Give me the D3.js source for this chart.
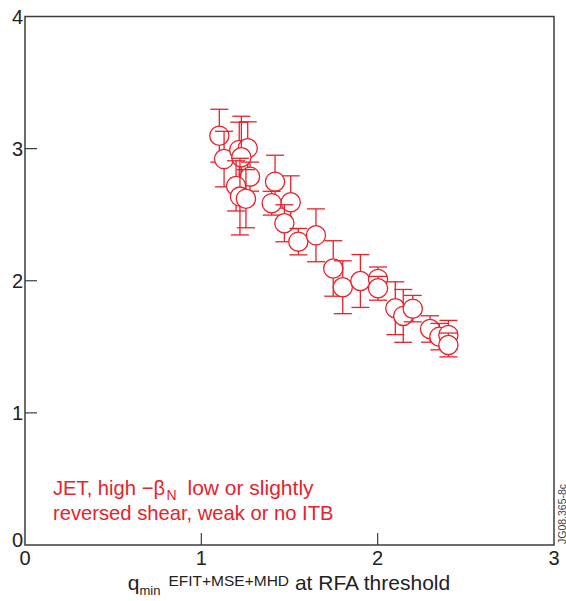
<!DOCTYPE html>
<html>
<head>
<meta charset="utf-8">
<script src="https://cdn.jsdelivr.net/npm/d3@7"></script>
<style>
  html, body { margin: 0; padding: 0; background: #fff; }
  svg { display: block; }
  text { font-family: "Liberation Sans", Arial, Helvetica, sans-serif; }
</style>
</head>
<body>
<script>
// ---- data ----
const qmin   = [1.102, 1.129, 1.215, 1.263, 1.227, 1.276, 1.197, 1.219, 1.253,
                1.418, 1.399, 1.507, 1.471, 1.550, 1.650,
                1.748, 1.802, 1.902, 2.002, 2.002, 2.100, 2.145, 2.199,
                2.297, 2.350, 2.401, 2.401];
const betaN  = [3.098, 2.921, 2.990, 3.003, 2.935, 2.788, 2.718, 2.637, 2.621,
                2.750, 2.587, 2.594, 2.435, 2.296, 2.344,
                2.093, 1.951, 1.998, 2.014, 1.943, 1.792, 1.734, 1.789,
                1.635, 1.577, 1.590, 1.514];
const betaErr = [0.20, 0.21, 0.21, 0.20, 0.31, 0.11, 0.19, 0.29, 0.22,
                 0.20, 0.09, 0.20, 0.14, 0.10, 0.20,
                 0.21, 0.20, 0.20, 0.09, 0.09, 0.20, 0.20, 0.10,
                 0.10, 0.10, 0.11, 0.09];
const xTickLabels = [0, 1, 2, 3];
const yTickLabels = [0, 1, 2, 3, 4];
const xInnerTicks = [1, 2];
const yInnerTicks = [1, 2, 3];
const noteLines = ["JET, high \u2212\u03B2", "reversed shear, weak or no ITB"];

const W = 566, H = 601;
const red = "#e8212b";
const ink = "#222";

const svg = d3.select("body").append("svg").attr("width", W).attr("height", H);

const x = d3.scaleLinear().domain([0, 3]).range([25, 554]);
const y = d3.scaleLinear().domain([0, 4]).range([545, 16.5]);

// frame
svg.append("rect")
  .attr("x", x(0)).attr("y", y(4))
  .attr("width", x(3) - x(0)).attr("height", y(0) - y(4))
  .attr("fill", "none").attr("stroke", "#3c3c3c").attr("stroke-width", 1.5);

// inner ticks
svg.selectAll("line.xt").data(xInnerTicks).join("line")
  .attr("x1", d => x(d)).attr("x2", d => x(d))
  .attr("y1", y(0)).attr("y2", y(0) - 12)
  .attr("stroke", "#3c3c3c").attr("stroke-width", 1.2);
svg.selectAll("line.yt").data(yInnerTicks).join("line")
  .attr("x1", x(0)).attr("x2", x(0) + 12)
  .attr("y1", d => y(d)).attr("y2", d => y(d))
  .attr("stroke", "#3c3c3c").attr("stroke-width", 1.2);

// tick labels
svg.selectAll("text.xl").data(xTickLabels).join("text")
  .attr("x", d => x(d)).attr("y", 565)
  .attr("text-anchor", "middle").attr("font-size", 20).attr("fill", ink)
  .text(d => d);
svg.selectAll("text.yl").data(yTickLabels).join("text")
  .attr("x", 23).attr("y", d => d === 0 ? y(d) + 1.7 : y(d) + 7)
  .attr("text-anchor", "end").attr("font-size", 20).attr("fill", ink)
  .text(d => d);

// x-axis title
const xt = svg.append("text").attr("x", 289).attr("y", 590)
  .attr("text-anchor", "middle").attr("font-size", 21).attr("fill", ink);
xt.append("tspan").text("q");
xt.append("tspan").attr("font-size", 13).attr("dy", 5).text("min");
xt.append("tspan").attr("font-size", 15.5).attr("dy", -9).attr("dx", 8).text("EFIT+MSE+MHD");
xt.append("tspan").attr("dy", 4).text(" at RFA threshold");

// data points with error bars
const pts = qmin.map((q, i) => ({ q, b: betaN[i], e: betaErr[i] }));
const g = svg.append("g");
pts.forEach(p => {
  const cx = x(p.q), cy = y(p.b), top = y(p.b + p.e), bot = y(p.b - p.e);
  const gp = g.append("g").attr("stroke", red).attr("stroke-width", 1.3);
  gp.append("line").attr("x1", cx).attr("x2", cx).attr("y1", top).attr("y2", bot);
  gp.append("line").attr("x1", cx - 9).attr("x2", cx + 9).attr("y1", top).attr("y2", top);
  gp.append("line").attr("x1", cx - 9).attr("x2", cx + 9).attr("y1", bot).attr("y2", bot);
  gp.append("circle").attr("cx", cx).attr("cy", cy).attr("r", 9.6).attr("fill", "#fff");
});

// annotation
const n1 = svg.append("text").attr("x", 53).attr("y", 495)
  .attr("font-size", 20.2).attr("fill", red);
n1.append("tspan").text(noteLines[0]);
n1.append("tspan").attr("font-size", 14).attr("dy", 5).attr("dx", 1.5).text("N");
n1.append("tspan").attr("dy", -5).attr("dx", 5).attr("font-size", 21).text(" low or slightly");
svg.append("text").attr("x", 53).attr("y", 519.5)
  .attr("font-size", 20.2).attr("fill", red).text(noteLines[1]);

// figure id
svg.append("text")
  .attr("transform", "translate(565.5,544) rotate(-90)")
  .attr("font-size", 10.5).attr("fill", "#444")
  .text("JG08.365-8c");
</script>
</body>
</html>
